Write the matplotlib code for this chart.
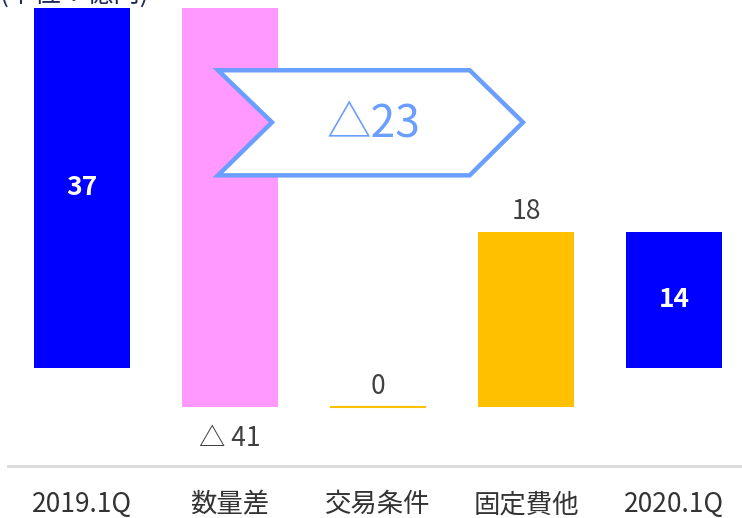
import numpy as np
import matplotlib.pyplot as plt
from matplotlib.patches import Polygon

plt.rcParams['font.family'] = ['Noto Sans CJK JP', 'DejaVu Sans']

categories = ['2019.1Q', '数量差', '交易条件', '固定費他', '2020.1Q']
changes = [37, -41, 0, 18, 14]
kinds = ['total', 'delta', 'delta', 'delta', 'total']
colors = ['#0000FF', '#FF99FF', '#FFC000', '#FFC000', '#0000FF']
unit_label = '(単位：億円)'

# waterfall bottoms / heights
bottoms, heights = [], []
level = 0
for v, k in zip(changes, kinds):
    if k == 'total':
        bottoms.append(0)
        heights.append(v)
        level = v
    else:
        bottoms.append(level if v >= 0 else level + v)
        heights.append(abs(v))
        level += v

fig = plt.figure(figsize=(7.42, 5.18), dpi=100)
ax = fig.add_axes([8 / 742, 1 - 466 / 518, 734 / 742, 466 / 518])

x = np.arange(len(categories))
ax.bar(x, heights, bottom=bottoms, width=0.65, color=colors, linewidth=0)
# zero-size step drawn as a thin line
for i, (v, h) in enumerate(zip(changes, heights)):
    if h == 0:
        ax.plot([i - 0.325, i + 0.325], [bottoms[i], bottoms[i]], color=colors[i], lw=1.5,
                solid_capstyle='butt')

gray = '#404040'
for i, (v, k) in enumerate(zip(changes, kinds)):
    top = bottoms[i] + heights[i]
    if k == 'total':
        ax.text(i, bottoms[i] + heights[i] / 2, f'{v}', ha='center', va='center',
                color='white', fontsize=19, fontweight='bold')
    elif v < 0:
        ax.text(i, bottoms[i] - 3.2, f'△ {abs(v)}', ha='center', va='center',
                color=gray, fontsize=19)
    else:
        ax.text(i, top + 2.1, f'{v}', ha='center', va='center', color=gray, fontsize=19)

# chevron showing the overall change
diff = changes[-1] - changes[0]
chev = [(0.919, 30.6), (2.62, 30.6), (2.98, 25.25), (2.62, 19.8), (0.919, 19.8), (1.284, 25.25)]
ax.add_patch(Polygon(chev, closed=True, facecolor='white', edgecolor='#6A9EFF', lw=3.2,
                     joinstyle='miter', zorder=5))
label = f'△{abs(diff)}' if diff < 0 else f'{diff}'
ax.text(1.97, 25.0, label, ha='center', va='center', color='#6A9EFF', fontsize=32, zorder=6)

ax.set_xlim(-0.5, 4.46)
ax.set_ylim(-10.07, 37.82)
ax.set_xticks(x)
ax.set_xticklabels(categories, fontsize=19, color='#333333')
ax.tick_params(axis='x', length=0, pad=18)
ax.set_yticks([])
for s in ['top', 'right', 'left']:
    ax.spines[s].set_visible(False)
ax.spines['bottom'].set_color('#D9D9D9')
ax.spines['bottom'].set_linewidth(2)

fig.text(0.0, 1.0 + 6 / 518, unit_label, ha='left', va='center', fontsize=19, color='#1F2A5A')

fig.savefig('out.png', dpi=100)
